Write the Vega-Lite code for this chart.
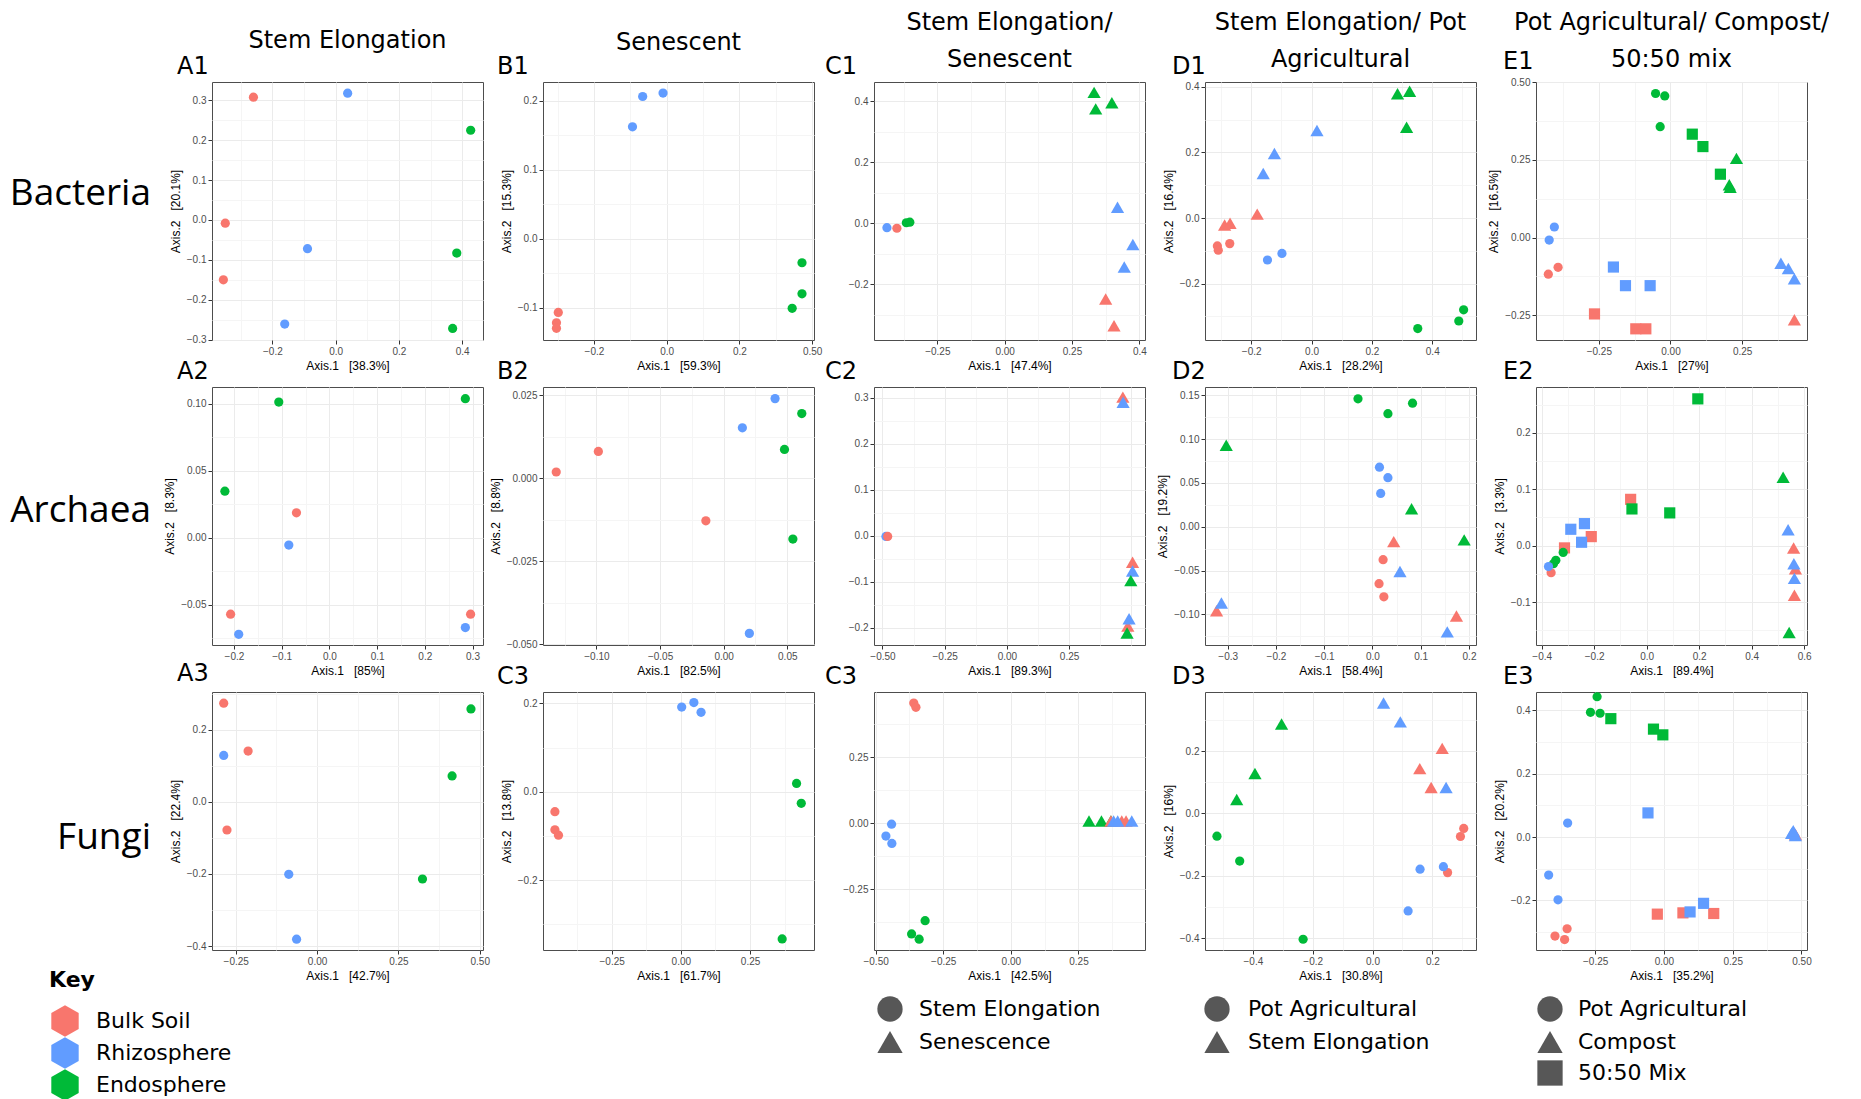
{
"$schema":"https://vega.github.io/schema/vega-lite/v6.json",
"padding":0,
"background":"white",
"bounds":"flush",
"align":"each",
"columns":6,
"spacing":{"row":47,"column":60},
"data":{"values":[
{"p":"A1","g":"Bulk Soil","x":-0.26,"y":0.308},
{"p":"A1","g":"Bulk Soil","x":-0.349,"y":-0.008},
{"p":"A1","g":"Bulk Soil","x":-0.355,"y":-0.15},
{"p":"A1","g":"Rhizosphere","x":0.038,"y":0.318},
{"p":"A1","g":"Rhizosphere","x":-0.089,"y":-0.072},
{"p":"A1","g":"Rhizosphere","x":-0.161,"y":-0.261},
{"p":"A1","g":"Endosphere","x":0.427,"y":0.225},
{"p":"A1","g":"Endosphere","x":0.383,"y":-0.083},
{"p":"A1","g":"Endosphere","x":0.37,"y":-0.272},
{"p":"B1","g":"Rhizosphere","x":-0.066,"y":0.206},
{"p":"B1","g":"Rhizosphere","x":-0.01,"y":0.211},
{"p":"B1","g":"Rhizosphere","x":-0.094,"y":0.162},
{"p":"B1","g":"Endosphere","x":0.372,"y":-0.035},
{"p":"B1","g":"Endosphere","x":0.372,"y":-0.08},
{"p":"B1","g":"Endosphere","x":0.345,"y":-0.101},
{"p":"B1","g":"Bulk Soil","x":-0.298,"y":-0.107},
{"p":"B1","g":"Bulk Soil","x":-0.303,"y":-0.122},
{"p":"B1","g":"Bulk Soil","x":-0.303,"y":-0.13},
{"p":"C1","g":"Bulk Soil","s":"Stem Elongation","x":-0.4,"y":-0.016},
{"p":"C1","g":"Rhizosphere","s":"Stem Elongation","x":-0.437,"y":-0.014},
{"p":"C1","g":"Endosphere","s":"Stem Elongation","x":-0.365,"y":0.002},
{"p":"C1","g":"Endosphere","s":"Stem Elongation","x":-0.352,"y":0.004},
{"p":"C1","g":"Endosphere","s":"Senescence","x":0.332,"y":0.429},
{"p":"C1","g":"Endosphere","s":"Senescence","x":0.338,"y":0.375},
{"p":"C1","g":"Endosphere","s":"Senescence","x":0.398,"y":0.395},
{"p":"C1","g":"Rhizosphere","s":"Senescence","x":0.419,"y":0.053},
{"p":"C1","g":"Rhizosphere","s":"Senescence","x":0.476,"y":-0.069},
{"p":"C1","g":"Rhizosphere","s":"Senescence","x":0.444,"y":-0.143},
{"p":"C1","g":"Bulk Soil","s":"Senescence","x":0.375,"y":-0.248},
{"p":"C1","g":"Bulk Soil","s":"Senescence","x":0.406,"y":-0.335},
{"p":"D1","g":"Endosphere","s":"Stem Elongation","x":0.285,"y":0.379},
{"p":"D1","g":"Endosphere","s":"Stem Elongation","x":0.325,"y":0.387},
{"p":"D1","g":"Endosphere","s":"Stem Elongation","x":0.315,"y":0.277},
{"p":"D1","g":"Rhizosphere","s":"Stem Elongation","x":0.018,"y":0.267},
{"p":"D1","g":"Rhizosphere","s":"Stem Elongation","x":-0.123,"y":0.197},
{"p":"D1","g":"Rhizosphere","s":"Stem Elongation","x":-0.16,"y":0.136},
{"p":"D1","g":"Bulk Soil","s":"Stem Elongation","x":-0.18,"y":0.012},
{"p":"D1","g":"Bulk Soil","s":"Stem Elongation","x":-0.288,"y":-0.021},
{"p":"D1","g":"Bulk Soil","s":"Stem Elongation","x":-0.27,"y":-0.016},
{"p":"D1","g":"Bulk Soil","s":"Pot Agricultural","x":-0.312,"y":-0.085},
{"p":"D1","g":"Bulk Soil","s":"Pot Agricultural","x":-0.309,"y":-0.098},
{"p":"D1","g":"Bulk Soil","s":"Pot Agricultural","x":-0.271,"y":-0.078},
{"p":"D1","g":"Rhizosphere","s":"Pot Agricultural","x":-0.146,"y":-0.128},
{"p":"D1","g":"Rhizosphere","s":"Pot Agricultural","x":-0.098,"y":-0.108},
{"p":"D1","g":"Endosphere","s":"Pot Agricultural","x":0.352,"y":-0.337},
{"p":"D1","g":"Endosphere","s":"Pot Agricultural","x":0.488,"y":-0.314},
{"p":"D1","g":"Endosphere","s":"Pot Agricultural","x":0.504,"y":-0.28},
{"p":"E1","g":"Endosphere","s":"Pot Agricultural","x":-0.052,"y":0.464},
{"p":"E1","g":"Endosphere","s":"Pot Agricultural","x":-0.02,"y":0.456},
{"p":"E1","g":"Endosphere","s":"Pot Agricultural","x":-0.036,"y":0.357},
{"p":"E1","g":"Endosphere","s":"50:50 Mix","x":0.076,"y":0.333},
{"p":"E1","g":"Endosphere","s":"50:50 Mix","x":0.113,"y":0.293},
{"p":"E1","g":"Endosphere","s":"50:50 Mix","x":0.174,"y":0.204},
{"p":"E1","g":"Endosphere","s":"Compost","x":0.23,"y":0.255},
{"p":"E1","g":"Endosphere","s":"Compost","x":0.205,"y":0.17},
{"p":"E1","g":"Endosphere","s":"Compost","x":0.208,"y":0.162},
{"p":"E1","g":"Rhizosphere","s":"Pot Agricultural","x":-0.405,"y":0.034},
{"p":"E1","g":"Rhizosphere","s":"Pot Agricultural","x":-0.423,"y":-0.008},
{"p":"E1","g":"Bulk Soil","s":"Pot Agricultural","x":-0.392,"y":-0.096},
{"p":"E1","g":"Bulk Soil","s":"Pot Agricultural","x":-0.426,"y":-0.118},
{"p":"E1","g":"Rhizosphere","s":"50:50 Mix","x":-0.199,"y":-0.095},
{"p":"E1","g":"Rhizosphere","s":"50:50 Mix","x":-0.157,"y":-0.155},
{"p":"E1","g":"Rhizosphere","s":"50:50 Mix","x":-0.071,"y":-0.155},
{"p":"E1","g":"Bulk Soil","s":"50:50 Mix","x":-0.265,"y":-0.246},
{"p":"E1","g":"Bulk Soil","s":"50:50 Mix","x":-0.121,"y":-0.294},
{"p":"E1","g":"Bulk Soil","s":"50:50 Mix","x":-0.086,"y":-0.294},
{"p":"E1","g":"Rhizosphere","s":"Compost","x":0.385,"y":-0.083},
{"p":"E1","g":"Rhizosphere","s":"Compost","x":0.411,"y":-0.1},
{"p":"E1","g":"Rhizosphere","s":"Compost","x":0.432,"y":-0.133},
{"p":"E1","g":"Bulk Soil","s":"Compost","x":0.432,"y":-0.265},
{"p":"A2","g":"Endosphere","x":-0.106,"y":0.1012},
{"p":"A2","g":"Endosphere","x":0.285,"y":0.1037},
{"p":"A2","g":"Endosphere","x":-0.219,"y":0.0347},
{"p":"A2","g":"Bulk Soil","x":-0.069,"y":0.0186},
{"p":"A2","g":"Bulk Soil","x":-0.207,"y":-0.057},
{"p":"A2","g":"Bulk Soil","x":0.296,"y":-0.057},
{"p":"A2","g":"Rhizosphere","x":-0.085,"y":-0.0055},
{"p":"A2","g":"Rhizosphere","x":-0.19,"y":-0.072},
{"p":"A2","g":"Rhizosphere","x":0.285,"y":-0.067},
{"p":"B2","g":"Rhizosphere","x":0.0404,"y":0.024},
{"p":"B2","g":"Rhizosphere","x":0.0147,"y":0.0152},
{"p":"B2","g":"Rhizosphere","x":0.0202,"y":-0.0467},
{"p":"B2","g":"Endosphere","x":0.0614,"y":0.0195},
{"p":"B2","g":"Endosphere","x":0.0478,"y":0.0087},
{"p":"B2","g":"Endosphere","x":0.0544,"y":-0.0183},
{"p":"B2","g":"Bulk Soil","x":-0.0985,"y":0.0081},
{"p":"B2","g":"Bulk Soil","x":-0.1316,"y":0.0019},
{"p":"B2","g":"Bulk Soil","x":-0.014,"y":-0.0128},
{"p":"C2","g":"Rhizosphere","s":"Stem Elongation","x":-0.486,"y":-0.002},
{"p":"C2","g":"Bulk Soil","s":"Stem Elongation","x":-0.479,"y":-0.002},
{"p":"C2","g":"Bulk Soil","s":"Senescence","x":0.466,"y":0.301},
{"p":"C2","g":"Rhizosphere","s":"Senescence","x":0.467,"y":0.29},
{"p":"C2","g":"Bulk Soil","s":"Senescence","x":0.505,"y":-0.058},
{"p":"C2","g":"Rhizosphere","s":"Senescence","x":0.505,"y":-0.077},
{"p":"C2","g":"Endosphere","s":"Senescence","x":0.498,"y":-0.098},
{"p":"C2","g":"Bulk Soil","s":"Senescence","x":0.486,"y":-0.197},
{"p":"C2","g":"Rhizosphere","s":"Senescence","x":0.491,"y":-0.181},
{"p":"C2","g":"Endosphere","s":"Senescence","x":0.483,"y":-0.212},
{"p":"D2","g":"Endosphere","s":"Pot Agricultural","x":-0.03,"y":0.146},
{"p":"D2","g":"Endosphere","s":"Pot Agricultural","x":0.083,"y":0.141},
{"p":"D2","g":"Endosphere","s":"Pot Agricultural","x":0.032,"y":0.129},
{"p":"D2","g":"Endosphere","s":"Stem Elongation","x":-0.303,"y":0.093},
{"p":"D2","g":"Endosphere","s":"Stem Elongation","x":0.081,"y":0.0205},
{"p":"D2","g":"Endosphere","s":"Stem Elongation","x":0.19,"y":-0.015},
{"p":"D2","g":"Rhizosphere","s":"Pot Agricultural","x":0.0145,"y":0.068},
{"p":"D2","g":"Rhizosphere","s":"Pot Agricultural","x":0.032,"y":0.056},
{"p":"D2","g":"Rhizosphere","s":"Pot Agricultural","x":0.017,"y":0.038},
{"p":"D2","g":"Bulk Soil","s":"Stem Elongation","x":0.044,"y":-0.017},
{"p":"D2","g":"Bulk Soil","s":"Stem Elongation","x":-0.323,"y":-0.096},
{"p":"D2","g":"Bulk Soil","s":"Stem Elongation","x":0.174,"y":-0.102},
{"p":"D2","g":"Bulk Soil","s":"Pot Agricultural","x":0.022,"y":-0.0376},
{"p":"D2","g":"Bulk Soil","s":"Pot Agricultural","x":0.0136,"y":-0.065},
{"p":"D2","g":"Bulk Soil","s":"Pot Agricultural","x":0.0236,"y":-0.08},
{"p":"D2","g":"Rhizosphere","s":"Stem Elongation","x":0.057,"y":-0.051},
{"p":"D2","g":"Rhizosphere","s":"Stem Elongation","x":-0.313,"y":-0.087},
{"p":"D2","g":"Rhizosphere","s":"Stem Elongation","x":0.155,"y":-0.12},
{"p":"E2","g":"Bulk Soil","s":"50:50 Mix","x":-0.061,"y":0.082},
{"p":"E2","g":"Bulk Soil","s":"50:50 Mix","x":-0.211,"y":0.016},
{"p":"E2","g":"Bulk Soil","s":"50:50 Mix","x":-0.313,"y":-0.004},
{"p":"E2","g":"Endosphere","s":"50:50 Mix","x":0.195,"y":0.26},
{"p":"E2","g":"Endosphere","s":"50:50 Mix","x":-0.056,"y":0.065},
{"p":"E2","g":"Endosphere","s":"50:50 Mix","x":0.088,"y":0.058},
{"p":"E2","g":"Rhizosphere","s":"50:50 Mix","x":-0.237,"y":0.039},
{"p":"E2","g":"Rhizosphere","s":"50:50 Mix","x":-0.289,"y":0.029},
{"p":"E2","g":"Rhizosphere","s":"50:50 Mix","x":-0.248,"y":0.006},
{"p":"E2","g":"Bulk Soil","s":"Pot Agricultural","x":-0.364,"y":-0.048},
{"p":"E2","g":"Endosphere","s":"Pot Agricultural","x":-0.318,"y":-0.012},
{"p":"E2","g":"Endosphere","s":"Pot Agricultural","x":-0.346,"y":-0.026},
{"p":"E2","g":"Endosphere","s":"Pot Agricultural","x":-0.355,"y":-0.032},
{"p":"E2","g":"Rhizosphere","s":"Pot Agricultural","x":-0.374,"y":-0.037},
{"p":"E2","g":"Endosphere","s":"Compost","x":0.52,"y":0.121},
{"p":"E2","g":"Endosphere","s":"Compost","x":0.543,"y":-0.154},
{"p":"E2","g":"Bulk Soil","s":"Compost","x":0.56,"y":-0.004},
{"p":"E2","g":"Bulk Soil","s":"Compost","x":0.567,"y":-0.041},
{"p":"E2","g":"Bulk Soil","s":"Compost","x":0.563,"y":-0.088},
{"p":"E2","g":"Rhizosphere","s":"Compost","x":0.539,"y":0.028},
{"p":"E2","g":"Rhizosphere","s":"Compost","x":0.561,"y":-0.032},
{"p":"E2","g":"Rhizosphere","s":"Compost","x":0.563,"y":-0.058},
{"p":"A3","g":"Bulk Soil","x":-0.287,"y":0.274},
{"p":"A3","g":"Bulk Soil","x":-0.212,"y":0.141},
{"p":"A3","g":"Bulk Soil","x":-0.277,"y":-0.078},
{"p":"A3","g":"Endosphere","x":0.473,"y":0.258},
{"p":"A3","g":"Endosphere","x":0.415,"y":0.072},
{"p":"A3","g":"Endosphere","x":0.324,"y":-0.214},
{"p":"A3","g":"Rhizosphere","x":-0.287,"y":0.129},
{"p":"A3","g":"Rhizosphere","x":-0.087,"y":-0.201},
{"p":"A3","g":"Rhizosphere","x":-0.063,"y":-0.381},
{"p":"B3","g":"Rhizosphere","x":0.003,"y":0.192},
{"p":"B3","g":"Rhizosphere","x":0.047,"y":0.202},
{"p":"B3","g":"Rhizosphere","x":0.073,"y":0.18},
{"p":"B3","g":"Endosphere","x":0.418,"y":0.019},
{"p":"B3","g":"Endosphere","x":0.435,"y":-0.026},
{"p":"B3","g":"Endosphere","x":0.366,"y":-0.333},
{"p":"B3","g":"Bulk Soil","x":-0.455,"y":-0.045},
{"p":"B3","g":"Bulk Soil","x":-0.455,"y":-0.086},
{"p":"B3","g":"Bulk Soil","x":-0.442,"y":-0.098},
{"p":"C3","g":"Bulk Soil","s":"Stem Elongation","x":-0.359,"y":0.455},
{"p":"C3","g":"Bulk Soil","s":"Stem Elongation","x":-0.351,"y":0.439},
{"p":"C3","g":"Rhizosphere","s":"Stem Elongation","x":-0.441,"y":-0.004},
{"p":"C3","g":"Rhizosphere","s":"Stem Elongation","x":-0.462,"y":-0.049},
{"p":"C3","g":"Rhizosphere","s":"Stem Elongation","x":-0.44,"y":-0.077},
{"p":"C3","g":"Endosphere","s":"Stem Elongation","x":-0.317,"y":-0.37},
{"p":"C3","g":"Endosphere","s":"Stem Elongation","x":-0.367,"y":-0.42},
{"p":"C3","g":"Endosphere","s":"Stem Elongation","x":-0.339,"y":-0.44},
{"p":"C3","g":"Endosphere","s":"Senescence","x":0.289,"y":0.008},
{"p":"C3","g":"Endosphere","s":"Senescence","x":0.335,"y":0.008},
{"p":"C3","g":"Endosphere","s":"Senescence","x":0.37,"y":0.008},
{"p":"C3","g":"Bulk Soil","s":"Senescence","x":0.37,"y":0.008},
{"p":"C3","g":"Bulk Soil","s":"Senescence","x":0.41,"y":0.008},
{"p":"C3","g":"Bulk Soil","s":"Senescence","x":0.426,"y":0.008},
{"p":"C3","g":"Rhizosphere","s":"Senescence","x":0.38,"y":0.008},
{"p":"C3","g":"Rhizosphere","s":"Senescence","x":0.395,"y":0.008},
{"p":"C3","g":"Rhizosphere","s":"Senescence","x":0.447,"y":0.008},
{"p":"D3","g":"Rhizosphere","s":"Stem Elongation","x":0.037,"y":0.355},
{"p":"D3","g":"Rhizosphere","s":"Stem Elongation","x":0.093,"y":0.294},
{"p":"D3","g":"Endosphere","s":"Stem Elongation","x":-0.304,"y":0.287},
{"p":"D3","g":"Endosphere","s":"Stem Elongation","x":-0.393,"y":0.128},
{"p":"D3","g":"Endosphere","s":"Stem Elongation","x":-0.454,"y":0.045},
{"p":"D3","g":"Bulk Soil","s":"Stem Elongation","x":0.233,"y":0.209},
{"p":"D3","g":"Bulk Soil","s":"Stem Elongation","x":0.158,"y":0.144},
{"p":"D3","g":"Bulk Soil","s":"Stem Elongation","x":0.196,"y":0.083},
{"p":"D3","g":"Rhizosphere","s":"Stem Elongation","x":0.246,"y":0.083},
{"p":"D3","g":"Bulk Soil","s":"Pot Agricultural","x":0.305,"y":-0.048},
{"p":"D3","g":"Bulk Soil","s":"Pot Agricultural","x":0.294,"y":-0.074},
{"p":"D3","g":"Bulk Soil","s":"Pot Agricultural","x":0.251,"y":-0.19},
{"p":"D3","g":"Rhizosphere","s":"Pot Agricultural","x":0.159,"y":-0.179},
{"p":"D3","g":"Rhizosphere","s":"Pot Agricultural","x":0.237,"y":-0.171},
{"p":"D3","g":"Rhizosphere","s":"Pot Agricultural","x":0.119,"y":-0.313},
{"p":"D3","g":"Endosphere","s":"Pot Agricultural","x":-0.52,"y":-0.073},
{"p":"D3","g":"Endosphere","s":"Pot Agricultural","x":-0.444,"y":-0.153},
{"p":"D3","g":"Endosphere","s":"Pot Agricultural","x":-0.232,"y":-0.404},
{"p":"E3","g":"Endosphere","s":"Pot Agricultural","x":-0.243,"y":0.442},
{"p":"E3","g":"Endosphere","s":"Pot Agricultural","x":-0.267,"y":0.393},
{"p":"E3","g":"Endosphere","s":"Pot Agricultural","x":-0.232,"y":0.39},
{"p":"E3","g":"Endosphere","s":"50:50 Mix","x":-0.193,"y":0.373},
{"p":"E3","g":"Endosphere","s":"50:50 Mix","x":-0.038,"y":0.34},
{"p":"E3","g":"Endosphere","s":"50:50 Mix","x":-0.004,"y":0.322},
{"p":"E3","g":"Rhizosphere","s":"Pot Agricultural","x":-0.35,"y":0.044},
{"p":"E3","g":"Rhizosphere","s":"Pot Agricultural","x":-0.419,"y":-0.12},
{"p":"E3","g":"Rhizosphere","s":"Pot Agricultural","x":-0.385,"y":-0.198},
{"p":"E3","g":"Bulk Soil","s":"Pot Agricultural","x":-0.352,"y":-0.289},
{"p":"E3","g":"Bulk Soil","s":"Pot Agricultural","x":-0.396,"y":-0.312},
{"p":"E3","g":"Bulk Soil","s":"Pot Agricultural","x":-0.361,"y":-0.323},
{"p":"E3","g":"Bulk Soil","s":"50:50 Mix","x":-0.024,"y":-0.243},
{"p":"E3","g":"Bulk Soil","s":"50:50 Mix","x":0.069,"y":-0.239},
{"p":"E3","g":"Bulk Soil","s":"50:50 Mix","x":0.181,"y":-0.241},
{"p":"E3","g":"Rhizosphere","s":"50:50 Mix","x":-0.058,"y":0.076},
{"p":"E3","g":"Rhizosphere","s":"50:50 Mix","x":0.095,"y":-0.236},
{"p":"E3","g":"Rhizosphere","s":"50:50 Mix","x":0.144,"y":-0.209},
{"p":"E3","g":"Bulk Soil","s":"Compost","x":0.472,"y":0.014},
{"p":"E3","g":"Bulk Soil","s":"Compost","x":0.478,"y":0.008},
{"p":"E3","g":"Bulk Soil","s":"Compost","x":0.47,"y":0.012},
{"p":"E3","g":"Rhizosphere","s":"Compost","x":0.464,"y":0.012},
{"p":"E3","g":"Rhizosphere","s":"Compost","x":0.478,"y":0.005},
{"p":"E3","g":"Rhizosphere","s":"Compost","x":0.47,"y":0.02}
]},
"concat":[
{"width":152,"height":35,"view":{"stroke":null},"data":{"values":[{"t":""}]},"mark":{"type":"text"},"encoding":{"text":{"field":"t"}}},
{"width":271,"height":35,"view":{"stroke":null},"data":{"values":[{"t":"Stem Elongation"}]},"mark":{"type":"text","font":"DejaVu Sans","fontSize":24,"lineBreak":"\n","lineHeight":37,"dy":23,"baseline":"middle","align":"center","color":"#000"},"encoding":{"text":{"field":"t"}}},
{"width":271,"height":35,"view":{"stroke":null},"data":{"values":[{"t":"Senescent"}]},"mark":{"type":"text","font":"DejaVu Sans","fontSize":24,"lineBreak":"\n","lineHeight":37,"dy":25,"baseline":"middle","align":"center","color":"#000"},"encoding":{"text":{"field":"t"}}},
{"width":271,"height":35,"view":{"stroke":null},"data":{"values":[{"t":"Stem Elongation/\nSenescent"}]},"mark":{"type":"text","font":"DejaVu Sans","fontSize":24,"lineBreak":"\n","lineHeight":37,"dy":5,"baseline":"middle","align":"center","color":"#000"},"encoding":{"text":{"field":"t"}}},
{"width":271,"height":35,"view":{"stroke":null},"data":{"values":[{"t":"Stem Elongation/ Pot\nAgricultural"}]},"mark":{"type":"text","font":"DejaVu Sans","fontSize":24,"lineBreak":"\n","lineHeight":37,"dy":5,"baseline":"middle","align":"center","color":"#000"},"encoding":{"text":{"field":"t"}}},
{"width":271,"height":35,"view":{"stroke":null},"data":{"values":[{"t":"Pot Agricultural/ Compost/\n50:50 mix"}]},"mark":{"type":"text","font":"DejaVu Sans","fontSize":24,"lineBreak":"\n","lineHeight":37,"dy":5,"baseline":"middle","align":"center","color":"#000"},"encoding":{"text":{"field":"t"}}},

{"width":152,"height":258,"view":{"stroke":null},"data":{"values":[{"t":"Bacteria"}]},"mark":{"type":"text","font":"Open Sans","fontSize":37,"align":"right","dx":75,"dy":-17,"baseline":"middle","color":"#000"},"encoding":{"text":{"field":"t"}}},
{"width":271,"height":258,"title":{"text":"A1","dx":-35},"transform":[{"filter":"datum.p=='A1'"}],
 "mark":{"type":"point","filled":true,"opacity":1,"size":85,"shape":"circle","strokeWidth":0},
 "encoding":{
  "x":{"field":"x","type":"quantitative","scale":{"domain":[-0.391,0.466],"nice":false,"zero":false},"axis":{"title":"Axis.1\u00a0\u00a0\u00a0[38.3%]","values":[-0.3,-0.2,-0.1,0,0.1,0.2,0.3,0.4],"format":".1f","labelExpr":"indexof([-0.2,0,0.2,0.4],datum.value)>=0?datum.label:''","gridColor":{"condition":{"test":"indexof([-0.2,0,0.2,0.4],datum.value)>=0","value":"#EBEBEB"},"value":"#F5F5F5"},"tickOpacity":{"condition":{"test":"indexof([-0.2,0,0.2,0.4],datum.value)>=0","value":1},"value":0}}},
  "y":{"field":"y","type":"quantitative","scale":{"domain":[-0.301,0.346],"nice":false,"zero":false},"axis":{"title":"Axis.2\u00a0\u00a0\u00a0[20.1%]","values":[-0.3,-0.25,-0.2,-0.15,-0.1,-0.05,0,0.05,0.1,0.15,0.2,0.25,0.3],"format":".1f","labelExpr":"indexof([-0.3,-0.2,-0.1,0,0.1,0.2,0.3],datum.value)>=0?datum.label:''","gridColor":{"condition":{"test":"indexof([-0.3,-0.2,-0.1,0,0.1,0.2,0.3],datum.value)>=0","value":"#EBEBEB"},"value":"#F5F5F5"},"tickOpacity":{"condition":{"test":"indexof([-0.3,-0.2,-0.1,0,0.1,0.2,0.3],datum.value)>=0","value":1},"value":0}}},
  "color":{"field":"g","type":"nominal","scale":{"domain":["Bulk Soil","Rhizosphere","Endosphere"],"range":["#F8766D","#619CFF","#00BA38"]},"legend":{"title":"Key","orient":"none","legendX":49,"legendY":970,"titleFont":"DejaVu Sans","titleFontSize":22,"titleFontWeight":"bold","titleColor":"#000","titlePadding":13,"labelFont":"DejaVu Sans","labelFontSize":22,"labelColor":"#000","labelLimit":0,"symbolType":"M0,-1L0.866,-0.5L0.866,0.5L0,1L-0.866,0.5L-0.866,-0.5Z","symbolSize":1000,"symbolStrokeWidth":0,"symbolOpacity":1,"rowPadding":-3,"labelOffset":15,"padding":0}}
 }},
{"width":271,"height":258,"title":{"text":"B1","dx":-46},"transform":[{"filter":"datum.p=='B1'"}],
 "mark":{"type":"point","filled":true,"opacity":1,"size":85,"shape":"circle","strokeWidth":0},
 "encoding":{
  "x":{"field":"x","type":"quantitative","scale":{"domain":[-0.34,0.405],"nice":false,"zero":false},"axis":{"title":"Axis.1\u00a0\u00a0\u00a0[59.3%]","values":[-0.3,-0.2,-0.1,0,0.1,0.2,0.3,0.4],"format":".1f","labelExpr":"datum.value==0.4?'0.50':(indexof([-0.2,0,0.2],datum.value)>=0?datum.label:'')","gridColor":{"condition":{"test":"indexof([-0.2,0,0.2,0.4],datum.value)>=0","value":"#EBEBEB"},"value":"#F5F5F5"},"tickOpacity":{"condition":{"test":"indexof([-0.2,0,0.2,0.4],datum.value)>=0","value":1},"value":0}}},
  "y":{"field":"y","type":"quantitative","scale":{"domain":[-0.147,0.227],"nice":false,"zero":false},"axis":{"title":"Axis.2\u00a0\u00a0\u00a0[15.3%]","values":[-0.1,-0.05,0,0.05,0.1,0.15,0.2],"format":".1f","labelExpr":"indexof([-0.1,0,0.1,0.2],datum.value)>=0?datum.label:''","gridColor":{"condition":{"test":"indexof([-0.1,0,0.1,0.2],datum.value)>=0","value":"#EBEBEB"},"value":"#F5F5F5"},"tickOpacity":{"condition":{"test":"indexof([-0.1,0,0.1,0.2],datum.value)>=0","value":1},"value":0}}},
  "color":{"field":"g","type":"nominal","scale":{"domain":["Bulk Soil","Rhizosphere","Endosphere"],"range":["#F8766D","#619CFF","#00BA38"]}}
 }},
{"width":271,"height":258,"title":{"text":"C1","dx":-49},"transform":[{"filter":"datum.p=='C1'"}],
 "mark":{"type":"point","filled":true,"opacity":1,"strokeWidth":0},
 "encoding":{
  "x":{"field":"x","type":"quantitative","scale":{"domain":[-0.485,0.521],"nice":false,"zero":false},"axis":{"title":"Axis.1\u00a0\u00a0\u00a0[47.4%]","values":[-0.375,-0.25,-0.125,0,0.125,0.25,0.375,0.5],"format":".2f","labelExpr":"datum.value==0.5?'0.4':(indexof([-0.25,0,0.25],datum.value)>=0?datum.label:'')","gridColor":{"condition":{"test":"indexof([-0.25,0,0.25,0.5],datum.value)>=0","value":"#EBEBEB"},"value":"#F5F5F5"},"tickOpacity":{"condition":{"test":"indexof([-0.25,0,0.25,0.5],datum.value)>=0","value":1},"value":0}}},
  "y":{"field":"y","type":"quantitative","scale":{"domain":[-0.382,0.463],"nice":false,"zero":false},"axis":{"title":null,"values":[-0.3,-0.2,-0.1,0,0.1,0.2,0.3,0.4],"format":".1f","labelExpr":"indexof([-0.2,0,0.2,0.4],datum.value)>=0?datum.label:''","gridColor":{"condition":{"test":"indexof([-0.2,0,0.2,0.4],datum.value)>=0","value":"#EBEBEB"},"value":"#F5F5F5"},"tickOpacity":{"condition":{"test":"indexof([-0.2,0,0.2,0.4],datum.value)>=0","value":1},"value":0}}},
  "color":{"field":"g","type":"nominal","scale":{"domain":["Bulk Soil","Rhizosphere","Endosphere"],"range":["#F8766D","#619CFF","#00BA38"]}},
  "shape":{"field":"s","type":"nominal","scale":{"domain":["Stem Elongation","Senescence"],"range":["circle","triangle-up"]},"legend":null},
  "size":{"condition":{"test":"datum.s=='Senescence'","value":175},"value":85}
 }},
{"width":271,"height":258,"title":{"text":"D1","dx":-33},"transform":[{"filter":"datum.p=='D1'"}],
 "mark":{"type":"point","filled":true,"opacity":1,"strokeWidth":0},
 "encoding":{
  "x":{"field":"x","type":"quantitative","scale":{"domain":[-0.353,0.545],"nice":false,"zero":false},"axis":{"title":"Axis.1\u00a0\u00a0\u00a0[28.2%]","values":[-0.3,-0.2,-0.1,0,0.1,0.2,0.3,0.4,0.5],"format":".1f","labelExpr":"indexof([-0.2,0,0.2,0.4],datum.value)>=0?datum.label:''","gridColor":{"condition":{"test":"indexof([-0.2,0,0.2,0.4],datum.value)>=0","value":"#EBEBEB"},"value":"#F5F5F5"},"tickOpacity":{"condition":{"test":"indexof([-0.2,0,0.2,0.4],datum.value)>=0","value":1},"value":0}}},
  "y":{"field":"y","type":"quantitative","scale":{"domain":[-0.372,0.415],"nice":false,"zero":false},"axis":{"title":"Axis.2\u00a0\u00a0\u00a0[16.4%]","values":[-0.3,-0.2,-0.1,0,0.1,0.2,0.3,0.4],"format":".1f","labelExpr":"indexof([-0.2,0,0.2,0.4],datum.value)>=0?datum.label:''","gridColor":{"condition":{"test":"indexof([-0.2,0,0.2,0.4],datum.value)>=0","value":"#EBEBEB"},"value":"#F5F5F5"},"tickOpacity":{"condition":{"test":"indexof([-0.2,0,0.2,0.4],datum.value)>=0","value":1},"value":0}}},
  "color":{"field":"g","type":"nominal","scale":{"domain":["Bulk Soil","Rhizosphere","Endosphere"],"range":["#F8766D","#619CFF","#00BA38"]}},
  "shape":{"field":"s","type":"nominal","scale":{"domain":["Pot Agricultural","Stem Elongation"],"range":["circle","triangle-up"]},"legend":null},
  "size":{"condition":{"test":"datum.s=='Stem Elongation'","value":175},"value":85}
 }},
{"width":271,"height":258,"title":{"text":"E1","dx":-33},"transform":[{"filter":"datum.p=='E1'"}],
 "mark":{"type":"point","filled":true,"opacity":1,"strokeWidth":0},
 "encoding":{
  "x":{"field":"x","type":"quantitative","scale":{"domain":[-0.469,0.476],"nice":false,"zero":false},"axis":{"title":"Axis.1\u00a0\u00a0\u00a0[27%]","values":[-0.375,-0.25,-0.125,0,0.125,0.25,0.375],"format":".2f","labelExpr":"indexof([-0.25,0,0.25],datum.value)>=0?datum.label:''","gridColor":{"condition":{"test":"indexof([-0.25,0,0.25],datum.value)>=0","value":"#EBEBEB"},"value":"#F5F5F5"},"tickOpacity":{"condition":{"test":"indexof([-0.25,0,0.25],datum.value)>=0","value":1},"value":0}}},
  "y":{"field":"y","type":"quantitative","scale":{"domain":[-0.33,0.501],"nice":false,"zero":false},"axis":{"title":"Axis.2\u00a0\u00a0\u00a0[16.5%]","values":[-0.25,-0.125,0,0.125,0.25,0.375,0.5],"format":".2f","labelExpr":"indexof([-0.25,0,0.25,0.5],datum.value)>=0?datum.label:''","gridColor":{"condition":{"test":"indexof([-0.25,0,0.25,0.5],datum.value)>=0","value":"#EBEBEB"},"value":"#F5F5F5"},"tickOpacity":{"condition":{"test":"indexof([-0.25,0,0.25,0.5],datum.value)>=0","value":1},"value":0}}},
  "color":{"field":"g","type":"nominal","scale":{"domain":["Bulk Soil","Rhizosphere","Endosphere"],"range":["#F8766D","#619CFF","#00BA38"]}},
  "shape":{"field":"s","type":"nominal","scale":{"domain":["Pot Agricultural","Compost","50:50 Mix"],"range":["circle","triangle-up","square"]},"legend":null},
  "size":{"condition":[{"test":"datum.s=='Compost'","value":175},{"test":"datum.s=='50:50 Mix'","value":125}],"value":85}
 }},

{"width":152,"height":258,"view":{"stroke":null},"data":{"values":[{"t":"Archaea"}]},"mark":{"type":"text","font":"Open Sans","fontSize":37,"align":"right","dx":75,"dy":-5,"baseline":"middle","color":"#000"},"encoding":{"text":{"field":"t"}}},
{"width":271,"height":258,"title":{"text":"A2","dx":-35},"transform":[{"filter":"datum.p=='A2'"}],
 "mark":{"type":"point","filled":true,"opacity":1,"size":85,"shape":"circle","strokeWidth":0},
 "encoding":{
  "x":{"field":"x","type":"quantitative","scale":{"domain":[-0.246,0.322],"nice":false,"zero":false},"axis":{"title":"Axis.1\u00a0\u00a0\u00a0[85%]","values":[-0.2,-0.15,-0.1,-0.05,0,0.05,0.1,0.15,0.2,0.25,0.3],"format":".1f","labelExpr":"indexof([-0.2,-0.1,0,0.1,0.2,0.3],datum.value)>=0?datum.label:''","gridColor":{"condition":{"test":"indexof([-0.2,-0.1,0,0.1,0.2,0.3],datum.value)>=0","value":"#EBEBEB"},"value":"#F5F5F5"},"tickOpacity":{"condition":{"test":"indexof([-0.2,-0.1,0,0.1,0.2,0.3],datum.value)>=0","value":1},"value":0}}},
  "y":{"field":"y","type":"quantitative","scale":{"domain":[-0.08,0.1124],"nice":false,"zero":false},"axis":{"title":"Axis.2\u00a0\u00a0\u00a0[8.3%]","values":[-0.075,-0.05,-0.025,0,0.025,0.05,0.075,0.1],"format":".2f","labelExpr":"indexof([-0.05,0,0.05,0.1],datum.value)>=0?datum.label:''","gridColor":{"condition":{"test":"indexof([-0.05,0,0.05,0.1],datum.value)>=0","value":"#EBEBEB"},"value":"#F5F5F5"},"tickOpacity":{"condition":{"test":"indexof([-0.05,0,0.05,0.1],datum.value)>=0","value":1},"value":0}}},
  "color":{"field":"g","type":"nominal","scale":{"domain":["Bulk Soil","Rhizosphere","Endosphere"],"range":["#F8766D","#619CFF","#00BA38"]}}
 }},
{"width":271,"height":258,"title":{"text":"B2","dx":-46},"transform":[{"filter":"datum.p=='B2'"}],
 "mark":{"type":"point","filled":true,"opacity":1,"size":85,"shape":"circle","strokeWidth":0},
 "encoding":{
  "x":{"field":"x","type":"quantitative","scale":{"domain":[-0.142,0.071],"nice":false,"zero":false},"axis":{"title":"Axis.1\u00a0\u00a0\u00a0[82.5%]","values":[-0.125,-0.1,-0.075,-0.05,-0.025,0,0.025,0.05],"format":".2f","labelExpr":"indexof([-0.1,-0.05,0,0.05],datum.value)>=0?datum.label:''","gridColor":{"condition":{"test":"indexof([-0.1,-0.05,0,0.05],datum.value)>=0","value":"#EBEBEB"},"value":"#F5F5F5"},"tickOpacity":{"condition":{"test":"indexof([-0.1,-0.05,0,0.05],datum.value)>=0","value":1},"value":0}}},
  "y":{"field":"y","type":"quantitative","scale":{"domain":[-0.0502,0.0275],"nice":false,"zero":false},"axis":{"title":"Axis.2\u00a0\u00a0\u00a0[8.8%]","values":[-0.05,-0.0375,-0.025,-0.0125,0,0.0125,0.025],"format":".3f","labelExpr":"indexof([-0.05,-0.025,0,0.025],datum.value)>=0?datum.label:''","gridColor":{"condition":{"test":"indexof([-0.05,-0.025,0,0.025],datum.value)>=0","value":"#EBEBEB"},"value":"#F5F5F5"},"tickOpacity":{"condition":{"test":"indexof([-0.05,-0.025,0,0.025],datum.value)>=0","value":1},"value":0}}},
  "color":{"field":"g","type":"nominal","scale":{"domain":["Bulk Soil","Rhizosphere","Endosphere"],"range":["#F8766D","#619CFF","#00BA38"]}}
 }},
{"width":271,"height":258,"title":{"text":"C2","dx":-49},"transform":[{"filter":"datum.p=='C2'"}],
 "mark":{"type":"point","filled":true,"opacity":1,"strokeWidth":0},
 "encoding":{
  "x":{"field":"x","type":"quantitative","scale":{"domain":[-0.534,0.555],"nice":false,"zero":false},"axis":{"title":"Axis.1\u00a0\u00a0\u00a0[89.3%]","values":[-0.5,-0.375,-0.25,-0.125,0,0.125,0.25,0.375,0.5],"format":".2f","labelExpr":"indexof([-0.5,-0.25,0,0.25],datum.value)>=0?datum.label:''","gridColor":{"condition":{"test":"indexof([-0.5,-0.25,0,0.25,0.5],datum.value)>=0","value":"#EBEBEB"},"value":"#F5F5F5"},"tickOpacity":{"condition":{"test":"indexof([-0.5,-0.25,0,0.25],datum.value)>=0","value":1},"value":0}}},
  "y":{"field":"y","type":"quantitative","scale":{"domain":[-0.238,0.323],"nice":false,"zero":false},"axis":{"title":null,"values":[-0.2,-0.15,-0.1,-0.05,0,0.05,0.1,0.15,0.2,0.25,0.3],"format":".1f","labelExpr":"indexof([-0.2,-0.1,0,0.1,0.2,0.3],datum.value)>=0?datum.label:''","gridColor":{"condition":{"test":"indexof([-0.2,-0.1,0,0.1,0.2,0.3],datum.value)>=0","value":"#EBEBEB"},"value":"#F5F5F5"},"tickOpacity":{"condition":{"test":"indexof([-0.2,-0.1,0,0.1,0.2,0.3],datum.value)>=0","value":1},"value":0}}},
  "color":{"field":"g","type":"nominal","scale":{"domain":["Bulk Soil","Rhizosphere","Endosphere"],"range":["#F8766D","#619CFF","#00BA38"]}},
  "shape":{"field":"s","type":"nominal","scale":{"domain":["Stem Elongation","Senescence"],"range":["circle","triangle-up"]},"legend":null},
  "size":{"condition":{"test":"datum.s=='Senescence'","value":175},"value":85}
 }},
{"width":271,"height":258,"title":{"text":"D2","dx":-33},"transform":[{"filter":"datum.p=='D2'"}],
 "mark":{"type":"point","filled":true,"opacity":1,"strokeWidth":0},
 "encoding":{
  "x":{"field":"x","type":"quantitative","scale":{"domain":[-0.347,0.2145],"nice":false,"zero":false},"axis":{"title":"Axis.1\u00a0\u00a0\u00a0[58.4%]","values":[-0.3,-0.25,-0.2,-0.15,-0.1,-0.05,0,0.05,0.1,0.15,0.2],"format":".1f","labelExpr":"indexof([-0.3,-0.2,-0.1,0,0.1,0.2],datum.value)>=0?datum.label:''","gridColor":{"condition":{"test":"indexof([-0.3,-0.2,-0.1,0,0.1,0.2],datum.value)>=0","value":"#EBEBEB"},"value":"#F5F5F5"},"tickOpacity":{"condition":{"test":"indexof([-0.3,-0.2,-0.1,0,0.1,0.2],datum.value)>=0","value":1},"value":0}}},
  "y":{"field":"y","type":"quantitative","scale":{"domain":[-0.135,0.1595],"nice":false,"zero":false},"axis":{"title":"Axis.2\u00a0\u00a0\u00a0[19.2%]","values":[-0.125,-0.1,-0.075,-0.05,-0.025,0,0.025,0.05,0.075,0.1,0.125,0.15],"format":".2f","labelExpr":"indexof([-0.1,-0.05,0,0.05,0.1,0.15],datum.value)>=0?datum.label:''","gridColor":{"condition":{"test":"indexof([-0.1,-0.05,0,0.05,0.1,0.15],datum.value)>=0","value":"#EBEBEB"},"value":"#F5F5F5"},"tickOpacity":{"condition":{"test":"indexof([-0.1,-0.05,0,0.05,0.1,0.15],datum.value)>=0","value":1},"value":0}}},
  "color":{"field":"g","type":"nominal","scale":{"domain":["Bulk Soil","Rhizosphere","Endosphere"],"range":["#F8766D","#619CFF","#00BA38"]}},
  "shape":{"field":"s","type":"nominal","scale":{"domain":["Pot Agricultural","Stem Elongation"],"range":["circle","triangle-up"]},"legend":null},
  "size":{"condition":{"test":"datum.s=='Stem Elongation'","value":175},"value":85}
 }},
{"width":271,"height":258,"title":{"text":"E2","dx":-33},"transform":[{"filter":"datum.p=='E2'"}],
 "mark":{"type":"point","filled":true,"opacity":1,"strokeWidth":0},
 "encoding":{
  "x":{"field":"x","type":"quantitative","scale":{"domain":[-0.4216,0.611],"nice":false,"zero":false},"axis":{"title":"Axis.1\u00a0\u00a0\u00a0[89.4%]","values":[-0.4,-0.3,-0.2,-0.1,0,0.1,0.2,0.3,0.4,0.5,0.6],"format":".1f","labelExpr":"indexof([-0.4,-0.2,0,0.2,0.4,0.6],datum.value)>=0?datum.label:''","gridColor":{"condition":{"test":"indexof([-0.4,-0.2,0,0.2,0.4,0.6],datum.value)>=0","value":"#EBEBEB"},"value":"#F5F5F5"},"tickOpacity":{"condition":{"test":"indexof([-0.4,-0.2,0,0.2,0.4,0.6],datum.value)>=0","value":1},"value":0}}},
  "y":{"field":"y","type":"quantitative","scale":{"domain":[-0.176,0.281],"nice":false,"zero":false},"axis":{"title":"Axis.2\u00a0\u00a0\u00a0[3.3%]","values":[-0.15,-0.1,-0.05,0,0.05,0.1,0.15,0.2,0.25],"format":".1f","labelExpr":"indexof([-0.1,0,0.1,0.2],datum.value)>=0?datum.label:''","gridColor":{"condition":{"test":"indexof([-0.1,0,0.1,0.2],datum.value)>=0","value":"#EBEBEB"},"value":"#F5F5F5"},"tickOpacity":{"condition":{"test":"indexof([-0.1,0,0.1,0.2],datum.value)>=0","value":1},"value":0}}},
  "color":{"field":"g","type":"nominal","scale":{"domain":["Bulk Soil","Rhizosphere","Endosphere"],"range":["#F8766D","#619CFF","#00BA38"]}},
  "shape":{"field":"s","type":"nominal","scale":{"domain":["Pot Agricultural","Compost","50:50 Mix"],"range":["circle","triangle-up","square"]},"legend":null},
  "size":{"condition":[{"test":"datum.s=='Compost'","value":175},{"test":"datum.s=='50:50 Mix'","value":125}],"value":85}
 }},

{"width":152,"height":258,"view":{"stroke":null},"data":{"values":[{"t":"Fungi"}]},"mark":{"type":"text","font":"Open Sans","fontSize":37,"align":"right","dx":75,"dy":17,"baseline":"middle","color":"#000"},"encoding":{"text":{"field":"t"}}},
{"width":271,"height":258,"title":{"text":"A3","dx":-35},"transform":[{"filter":"datum.p=='A3'"}],
 "mark":{"type":"point","filled":true,"opacity":1,"size":85,"shape":"circle","strokeWidth":0},
 "encoding":{
  "x":{"field":"x","type":"quantitative","scale":{"domain":[-0.323,0.51],"nice":false,"zero":false},"axis":{"title":"Axis.1\u00a0\u00a0\u00a0[42.7%]","values":[-0.25,-0.125,0,0.125,0.25,0.375,0.5],"format":".2f","labelExpr":"indexof([-0.25,0,0.25,0.5],datum.value)>=0?datum.label:''","gridColor":{"condition":{"test":"indexof([-0.25,0,0.25,0.5],datum.value)>=0","value":"#EBEBEB"},"value":"#F5F5F5"},"tickOpacity":{"condition":{"test":"indexof([-0.25,0,0.25,0.5],datum.value)>=0","value":1},"value":0}}},
  "y":{"field":"y","type":"quantitative","scale":{"domain":[-0.411,0.305],"nice":false,"zero":false},"axis":{"title":"Axis.2\u00a0\u00a0\u00a0[22.4%]","values":[-0.4,-0.3,-0.2,-0.1,0,0.1,0.2,0.3],"format":".1f","labelExpr":"indexof([-0.4,-0.2,0,0.2],datum.value)>=0?datum.label:''","gridColor":{"condition":{"test":"indexof([-0.4,-0.2,0,0.2],datum.value)>=0","value":"#EBEBEB"},"value":"#F5F5F5"},"tickOpacity":{"condition":{"test":"indexof([-0.4,-0.2,0,0.2],datum.value)>=0","value":1},"value":0}}},
  "color":{"field":"g","type":"nominal","scale":{"domain":["Bulk Soil","Rhizosphere","Endosphere"],"range":["#F8766D","#619CFF","#00BA38"]}}
 }},
{"width":271,"height":258,"title":{"text":"C3","dx":-46},"transform":[{"filter":"datum.p=='B3'"}],
 "mark":{"type":"point","filled":true,"opacity":1,"size":85,"shape":"circle","strokeWidth":0},
 "encoding":{
  "x":{"field":"x","type":"quantitative","scale":{"domain":[-0.498,0.481],"nice":false,"zero":false},"axis":{"title":"Axis.1\u00a0\u00a0\u00a0[61.7%]","values":[-0.375,-0.25,-0.125,0,0.125,0.25,0.375],"format":".2f","labelExpr":"indexof([-0.25,0,0.25],datum.value)>=0?datum.label:''","gridColor":{"condition":{"test":"indexof([-0.25,0,0.25],datum.value)>=0","value":"#EBEBEB"},"value":"#F5F5F5"},"tickOpacity":{"condition":{"test":"indexof([-0.25,0,0.25],datum.value)>=0","value":1},"value":0}}},
  "y":{"field":"y","type":"quantitative","scale":{"domain":[-0.358,0.226],"nice":false,"zero":false},"axis":{"title":"Axis.2\u00a0\u00a0\u00a0[13.8%]","values":[-0.3,-0.2,-0.1,0,0.1,0.2],"format":".1f","labelExpr":"indexof([-0.2,0,0.2],datum.value)>=0?datum.label:''","gridColor":{"condition":{"test":"indexof([-0.2,0,0.2],datum.value)>=0","value":"#EBEBEB"},"value":"#F5F5F5"},"tickOpacity":{"condition":{"test":"indexof([-0.2,0,0.2],datum.value)>=0","value":1},"value":0}}},
  "color":{"field":"g","type":"nominal","scale":{"domain":["Bulk Soil","Rhizosphere","Endosphere"],"range":["#F8766D","#619CFF","#00BA38"]}}
 }},
{"width":271,"height":258,"title":{"text":"C3","dx":-49},"transform":[{"filter":"datum.p=='C3'"}],
 "mark":{"type":"point","filled":true,"opacity":1,"strokeWidth":0},
 "encoding":{
  "x":{"field":"x","type":"quantitative","scale":{"domain":[-0.506,0.496],"nice":false,"zero":false},"axis":{"title":"Axis.1\u00a0\u00a0\u00a0[42.5%]","values":[-0.5,-0.375,-0.25,-0.125,0,0.125,0.25,0.375],"format":".2f","labelExpr":"indexof([-0.5,-0.25,0,0.25],datum.value)>=0?datum.label:''","gridColor":{"condition":{"test":"indexof([-0.5,-0.25,0,0.25],datum.value)>=0","value":"#EBEBEB"},"value":"#F5F5F5"},"tickOpacity":{"condition":{"test":"indexof([-0.5,-0.25,0,0.25],datum.value)>=0","value":1},"value":0}}},
  "y":{"field":"y","type":"quantitative","scale":{"domain":[-0.481,0.497],"nice":false,"zero":false},"axis":{"title":null,"values":[-0.375,-0.25,-0.125,0,0.125,0.25,0.375],"format":".2f","labelExpr":"indexof([-0.25,0,0.25],datum.value)>=0?datum.label:''","gridColor":{"condition":{"test":"indexof([-0.25,0,0.25],datum.value)>=0","value":"#EBEBEB"},"value":"#F5F5F5"},"tickOpacity":{"condition":{"test":"indexof([-0.25,0,0.25],datum.value)>=0","value":1},"value":0}}},
  "color":{"field":"g","type":"nominal","scale":{"domain":["Bulk Soil","Rhizosphere","Endosphere"],"range":["#F8766D","#619CFF","#00BA38"]}},
  "shape":{"field":"s","type":"nominal","scale":{"domain":["Stem Elongation","Senescence"],"range":["circle","triangle-up"]},"legend":{"title":null,"orient":"none","legendX":3,"legendY":304,"symbolSize":640,"symbolFillColor":"#575757","symbolStrokeWidth":0,"symbolOpacity":1,"rowPadding":7,"labelOffset":16,"labelLimit":0,"padding":0}},
  "size":{"condition":{"test":"datum.s=='Senescence'","value":175},"value":85}
 }},
{"width":271,"height":258,"title":{"text":"D3","dx":-33},"transform":[{"filter":"datum.p=='D3'"}],
 "mark":{"type":"point","filled":true,"opacity":1,"strokeWidth":0},
 "encoding":{
  "x":{"field":"x","type":"quantitative","scale":{"domain":[-0.56,0.346],"nice":false,"zero":false},"axis":{"title":"Axis.1\u00a0\u00a0\u00a0[30.8%]","values":[-0.5,-0.4,-0.3,-0.2,-0.1,0,0.1,0.2,0.3],"format":".1f","labelExpr":"indexof([-0.4,-0.2,0,0.2],datum.value)>=0?datum.label:''","gridColor":{"condition":{"test":"indexof([-0.4,-0.2,0,0.2],datum.value)>=0","value":"#EBEBEB"},"value":"#F5F5F5"},"tickOpacity":{"condition":{"test":"indexof([-0.4,-0.2,0,0.2],datum.value)>=0","value":1},"value":0}}},
  "y":{"field":"y","type":"quantitative","scale":{"domain":[-0.4385,0.39],"nice":false,"zero":false},"axis":{"title":"Axis.2\u00a0\u00a0\u00a0[16%]","values":[-0.4,-0.3,-0.2,-0.1,0,0.1,0.2,0.3],"format":".1f","labelExpr":"indexof([-0.4,-0.2,0,0.2],datum.value)>=0?datum.label:''","gridColor":{"condition":{"test":"indexof([-0.4,-0.2,0,0.2],datum.value)>=0","value":"#EBEBEB"},"value":"#F5F5F5"},"tickOpacity":{"condition":{"test":"indexof([-0.4,-0.2,0,0.2],datum.value)>=0","value":1},"value":0}}},
  "color":{"field":"g","type":"nominal","scale":{"domain":["Bulk Soil","Rhizosphere","Endosphere"],"range":["#F8766D","#619CFF","#00BA38"]}},
  "shape":{"field":"s","type":"nominal","scale":{"domain":["Pot Agricultural","Stem Elongation"],"range":["circle","triangle-up"]},"legend":{"title":null,"orient":"none","legendX":-1,"legendY":304,"symbolSize":640,"symbolFillColor":"#575757","symbolStrokeWidth":0,"symbolOpacity":1,"rowPadding":7,"labelOffset":18,"labelLimit":0,"padding":0}},
  "size":{"condition":{"test":"datum.s=='Stem Elongation'","value":175},"value":85}
 }},
{"width":271,"height":258,"title":{"text":"E3","dx":-33},"transform":[{"filter":"datum.p=='E3'"}],
 "mark":{"type":"point","filled":true,"opacity":1,"strokeWidth":0},
 "encoding":{
  "x":{"field":"x","type":"quantitative","scale":{"domain":[-0.465,0.52],"nice":false,"zero":false},"axis":{"title":"Axis.1\u00a0\u00a0\u00a0[35.2%]","values":[-0.375,-0.25,-0.125,0,0.125,0.25,0.375,0.5],"format":".2f","labelExpr":"indexof([-0.25,0,0.25,0.5],datum.value)>=0?datum.label:''","gridColor":{"condition":{"test":"indexof([-0.25,0,0.25,0.5],datum.value)>=0","value":"#EBEBEB"},"value":"#F5F5F5"},"tickOpacity":{"condition":{"test":"indexof([-0.25,0,0.25,0.5],datum.value)>=0","value":1},"value":0}}},
  "y":{"field":"y","type":"quantitative","scale":{"domain":[-0.356,0.457],"nice":false,"zero":false},"axis":{"title":"Axis.2\u00a0\u00a0\u00a0[20.2%]","values":[-0.3,-0.2,-0.1,0,0.1,0.2,0.3,0.4],"format":".1f","labelExpr":"indexof([-0.2,0,0.2,0.4],datum.value)>=0?datum.label:''","gridColor":{"condition":{"test":"indexof([-0.2,0,0.2,0.4],datum.value)>=0","value":"#EBEBEB"},"value":"#F5F5F5"},"tickOpacity":{"condition":{"test":"indexof([-0.2,0,0.2,0.4],datum.value)>=0","value":1},"value":0}}},
  "color":{"field":"g","type":"nominal","scale":{"domain":["Bulk Soil","Rhizosphere","Endosphere"],"range":["#F8766D","#619CFF","#00BA38"]}},
  "shape":{"field":"s","type":"nominal","scale":{"domain":["Pot Agricultural","Compost","50:50 Mix"],"range":["circle","triangle-up","square"]},"legend":{"title":null,"orient":"none","legendX":1,"legendY":304,"symbolSize":640,"symbolFillColor":"#575757","symbolStrokeWidth":0,"symbolOpacity":1,"rowPadding":7,"labelOffset":15,"labelLimit":0,"padding":0}},
  "size":{"condition":[{"test":"datum.s=='Compost'","value":175},{"test":"datum.s=='50:50 Mix'","value":125}],"value":85}
 }}
],
"resolve":{"scale":{"shape":"independent"},"legend":{"shape":"independent"}},
"config":{
 "font":"Liberation Sans",
 "view":{"stroke":"#4D4D4D","strokeWidth":1},
 "axis":{"labelFont":"Liberation Sans","labelFontSize":10,"labelColor":"#4D4D4D","labelFlush":false,"labelOverlap":false,"labelPadding":2,"titleFont":"Liberation Sans","titleFontSize":12,"titleFontWeight":"normal","titleColor":"#000000","titlePadding":4,"tickColor":"#333333","tickSize":4,"tickWidth":1,"domain":false,"grid":true,"gridWidth":1},
 "title":{"font":"DejaVu Sans","fontSize":24,"fontWeight":"normal","anchor":"start","frame":"group","offset":3,"color":"#000000"},
 "legend":{"labelFont":"DejaVu Sans","labelFontSize":22,"labelColor":"#000000","labelLimit":0,"titleFont":"DejaVu Sans"}
}
}
